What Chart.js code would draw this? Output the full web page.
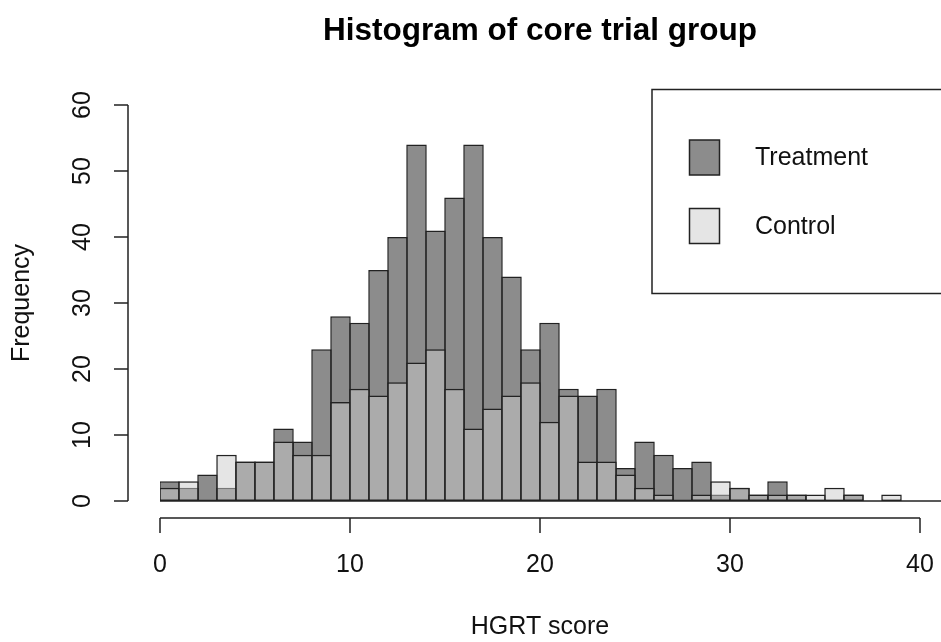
<!DOCTYPE html>
<html>
<head>
<meta charset="utf-8">
<script src="https://cdn.jsdelivr.net/npm/chart.js@4/dist/chart.umd.min.js"></script>
<style>
  html, body { margin: 0; padding: 0; background: #fff; }
  #wrap { width: 941px; height: 642px; }
</style>
</head>
<body>
<div id="wrap"><canvas id="hist" width="941" height="642"></canvas></div>
<script>
// histogram bins (width 1, left edges)
const binStarts = [0,1,2,3,4,5,6,7,8,9,10,11,12,13,14,15,16,17,18,19,20,21,22,23,24,25,26,27,28,29,30,31,32,33,34,35,36,37,38,39];
const treatmentCounts = [3,2,4,2,6,6,11,9,23,28,27,35,40,54,41,46,54,40,34,23,27,17,16,17,5,9,7,5,6,1,2,1,3,1,0,0,1,0,0,0];
const controlCounts   = [2,3,0,7,6,6,9,7,7,15,17,16,18,21,23,17,11,14,16,18,12,16,6,6,4,2,1,0,1,3,2,1,1,1,1,2,1,0,1,0];
const xTicks = [0, 10, 20, 30, 40];
const yTicks = [0, 10, 20, 30, 40, 50, 60];

const FONT = '"Liberation Sans", Arial, sans-serif';
const LINE = '#222';
const TREAT_FILL = 'rgba(25,25,25,0.5)';
const CTRL_FILL = 'rgba(203,203,203,0.5)';

function toPoints(counts){ return counts.map((v, i) => ({ x: binStarts[i] + 0.5, y: v })); }

// R-style detached axes, title and legend box
const rDecor = {
  id: 'rDecor',
  afterDatasetsDraw(chart){
    const { ctx, chartArea } = chart;
    const x = chart.scales.x, y = chart.scales.y;
    const y0 = y.getPixelForValue(0);
    ctx.save();
    ctx.strokeStyle = LINE;
    ctx.lineWidth = 1.5;
    // zero line under the bars
    ctx.beginPath(); ctx.moveTo(x.getPixelForValue(0), y0); ctx.lineTo(chart.width, y0); ctx.stroke();

    // x axis
    const ax = y0 + 17;
    ctx.beginPath();
    ctx.moveTo(x.getPixelForValue(xTicks[0]), ax);
    ctx.lineTo(x.getPixelForValue(xTicks[xTicks.length-1]), ax);
    xTicks.forEach(t => { const px = x.getPixelForValue(t); ctx.moveTo(px, ax); ctx.lineTo(px, ax + 15); });
    ctx.stroke();

    // y axis
    const ay = chartArea.left - 32;
    ctx.beginPath();
    ctx.moveTo(ay, y.getPixelForValue(yTicks[0]));
    ctx.lineTo(ay, y.getPixelForValue(yTicks[yTicks.length-1]));
    yTicks.forEach(t => { const py = y.getPixelForValue(t); ctx.moveTo(ay, py); ctx.lineTo(ay - 14, py); });
    ctx.stroke();

    // main title
    ctx.fillStyle = '#000';
    ctx.font = 'bold 31.5px ' + FONT;
    ctx.textAlign = 'center';
    ctx.textBaseline = 'middle';
    ctx.fillText('Histogram of core trial group', (chartArea.left + chartArea.right) / 2, 31);

    // legend
    ctx.lineWidth = 1.5;
    ctx.strokeStyle = '#222';
    ctx.strokeRect(652, 89.5, 320, 204);
    ctx.font = '25px ' + FONT;
    ctx.textAlign = 'left';
    chart.data.datasets.slice().reverse().forEach((ds, i) => {
      const top = 140 + i * 68.5;
      ctx.fillStyle = '#fff'; ctx.fillRect(689.5, top, 30, 35);
      ctx.fillStyle = ds.backgroundColor; ctx.fillRect(689.5, top, 30, 35);
      ctx.strokeRect(689.5, top, 30, 35);
      ctx.fillStyle = '#111';
      ctx.fillText(ds.label, 755, top + 18.5);
    });
    ctx.restore();
  }
};

new Chart(document.getElementById('hist'), {
  type: 'bar',
  data: {
    datasets: [
      { label: 'Control', data: toPoints(controlCounts), backgroundColor: CTRL_FILL, borderColor: LINE, borderWidth: 1.5, borderSkipped: false, order: 0 },
      { label: 'Treatment', data: toPoints(treatmentCounts), backgroundColor: TREAT_FILL, borderColor: LINE, borderWidth: 1.5, borderSkipped: false, order: 1 }
    ]
  },
  options: {
    responsive: false,
    animation: false,
    events: [],
    layout: { padding: { top: 105, right: 21, left: 0, bottom: 0 } },
    datasets: { bar: { grouped: false, barPercentage: 1.08, categoryPercentage: 1 } },
    plugins: { legend: { display: false }, tooltip: { enabled: false }, title: { display: false } },
    scales: {
      x: {
        type: 'linear', min: 0, max: 40, offset: false,
        afterFit(s){ s.height = 141; s.paddingLeft = 0; s.paddingRight = 0; },
        afterBuildTicks(s){ s.ticks = xTicks.map(v => ({ value: v })); },
        grid: { display: false, drawTicks: false },
        border: { display: false },
        ticks: { color: '#111', font: { size: 25, family: FONT }, padding: 49, maxRotation: 0 },
        title: { display: true, text: 'HGRT score', color: '#111', font: { size: 25, family: FONT }, padding: { top: 0, bottom: 0 } }
      },
      y: {
        min: 0, max: 60,
        afterFit(s){ s.width = 160; s.paddingTop = 0; s.paddingBottom = 0; },
        afterBuildTicks(s){ s.ticks = yTicks.map(v => ({ value: v })); },
        grid: { display: false, drawTicks: false },
        border: { display: false },
        ticks: { color: '#111', font: { size: 25, family: FONT }, padding: 63, minRotation: 90, maxRotation: 90, crossAlign: 'center' },
        title: { display: true, text: 'Frequency', color: '#111', font: { size: 25, family: FONT }, padding: { top: 7, bottom: 0 } }
      }
    }
  },
  plugins: [rDecor]
});
</script>
</body>
</html>
